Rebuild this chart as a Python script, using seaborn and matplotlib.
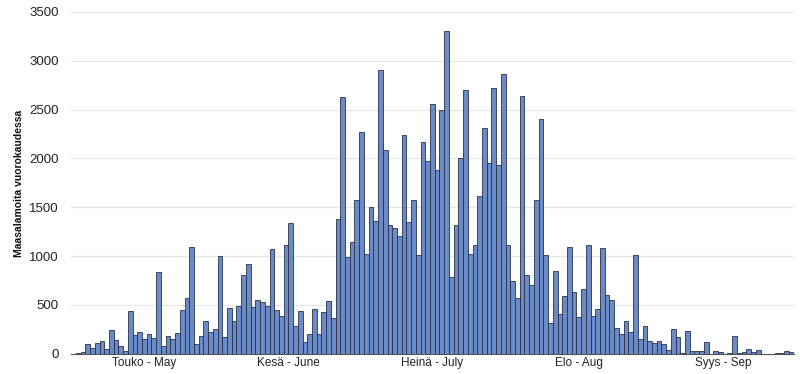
import numpy as np
import pandas as pd
import matplotlib
matplotlib.use("Agg")
import matplotlib.pyplot as plt
import seaborn as sns

# Daily ground lightning counts, May-September
may = [3, 5, 20, 96, 62, 113, 133, 51, 243, 137, 79, 24, 434, 188, 222, 147,
       202, 164, 834, 75, 181, 147, 209, 448, 575, 1091, 103, 181, 332, 219, 250]
june = [1005, 168, 469, 339, 492, 811, 923, 482, 554, 534, 486, 1077, 448, 390,
        1111, 1337, 287, 438, 123, 205, 462, 205, 431, 544, 363, 1385, 2630, 992,
        1149, 1573]
july = [2268, 1020, 1503, 1357, 2904, 2091, 1316, 1285, 1204, 2241, 1346, 1571,
        1010, 2173, 1979, 2553, 1877, 2492, 3305, 782, 1316, 2009, 2703, 1020,
        1119, 1612, 2315, 1952, 2717, 1938, 2866]
aug = [1112, 743, 573, 2639, 808, 706, 1579, 2404, 1009, 317, 846, 409, 587,
       1098, 631, 379, 668, 1112, 389, 457, 1088, 600, 546, 263, 205, 331, 225,
       1016, 147, 283, 136]
sep = [109, 133, 96, 38, 250, 168, 10, 229, 31, 31, 31, 120, 3, 31, 20, 3, 10,
       181, 7, 14, 51, 14, 34, 0, 0, 0, 7, 10, 24, 17]
month_labels = ["Touko - May", "Kesä - June", "Heinä - July", "Elo - Aug", "Syys - Sep"]
y_label = "Maasalamoita vuorokaudessa"

months = [may, june, july, aug, sep]
values = sum(months, [])
df = pd.DataFrame({"day": np.arange(len(values)), "count": values})

sns.set_theme(style="white")
plt.rcParams["font.family"] = ["Liberation Sans", "DejaVu Sans"]

fig = plt.figure(figsize=(8, 3.74), dpi=100)
ax = fig.add_axes([0.089, 0.054, 0.903, 0.914])

sns.barplot(data=df, x="day", y="count", color="#6a8bc7", saturation=1,
            width=1.0, edgecolor="#27324a", linewidth=0.6, ax=ax, zorder=2)

ax.set_ylim(0, 3500)
ax.set_xlim(-0.5, len(values) - 0.5)
ax.set_yticks(np.arange(0, 3501, 500))
ax.yaxis.grid(True, color="#e4e4e4", linewidth=0.8, zorder=0)
ax.set_axisbelow(True)

# month boundaries as minor ticks, month names centered
lengths = [len(m) for m in months]
edges = np.concatenate([[0], np.cumsum(lengths)]) - 0.5
centers = (edges[:-1] + edges[1:]) / 2
ax.set_xticks(edges, minor=True)
ax.set_xticks(centers)
ax.set_xticklabels(month_labels, fontsize=8.5, color="#222222")
ax.tick_params(axis="x", which="major", length=0, pad=2)
ax.tick_params(axis="x", which="minor", length=3, width=0.8, color="#444444", direction="out")
ax.tick_params(axis="y", length=0, labelsize=9.5, colors="#222222", pad=9)

for s in ["top", "right", "left"]:
    ax.spines[s].set_visible(False)
ax.spines["bottom"].set_color("#555555")
ax.spines["bottom"].set_linewidth(0.8)

ax.set_xlabel("")
ax.set_ylabel(y_label, fontsize=7.5, fontweight="bold", color="#111111", labelpad=4)

fig.savefig("out.png", dpi=100)
